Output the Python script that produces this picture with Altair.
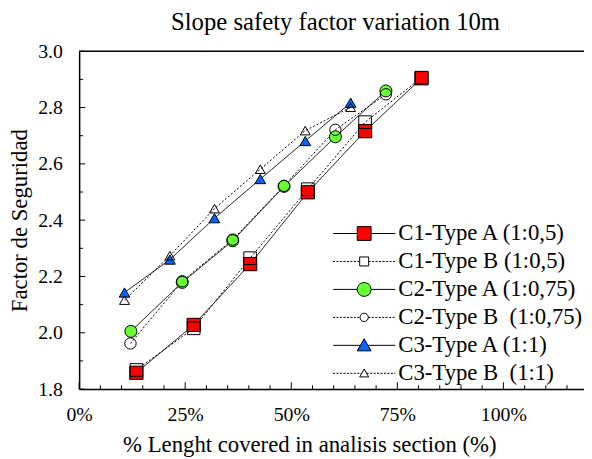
import altair as alt
import pandas as pd

# ---------------- data ----------------
series_names = [
    "C1-Type A (1:0,5)",
    "C1-Type B (1:0,5)",
    "C2-Type A (1:0,75)",
    "C2-Type B \u00a0(1:0,75)",
    "C3-Type A (1:1)",
    "C3-Type B \u00a0(1:1)",
]

c1a_x = [0.135, 0.270, 0.403, 0.539, 0.674, 0.807]
c1a_y = [1.858, 2.028, 2.244, 2.499, 2.716, 2.904]
c1b_x = [0.135, 0.270, 0.403, 0.539, 0.674, 0.807]
c1b_y = [1.868, 2.016, 2.265, 2.510, 2.748, 2.906]

c2a_x = [0.122, 0.243, 0.362, 0.483, 0.604, 0.723]
c2a_y = [2.005, 2.179, 2.327, 2.520, 2.696, 2.859]
c2b_x = [0.121, 0.243, 0.362, 0.483, 0.604, 0.723]
c2b_y = [1.962, 2.183, 2.331, 2.522, 2.721, 2.847]

c3a_x = [0.107, 0.214, 0.319, 0.427, 0.533, 0.640]
c3a_y = [2.143, 2.260, 2.407, 2.546, 2.681, 2.817]
c3b_x = [0.107, 0.214, 0.319, 0.427, 0.533, 0.640]
c3b_y = [2.116, 2.274, 2.441, 2.581, 2.718, 2.801]

x_major_ticks = [0.0, 0.25, 0.5, 0.75, 1.0]
x_minor_ticks = [0.05, 0.10, 0.15, 0.20, 0.30, 0.35, 0.40, 0.45, 0.55, 0.60,
                 0.65, 0.70, 0.80, 0.85, 0.90, 0.95, 1.05, 1.10, 1.15]
y_major_ticks = [1.8, 2.0, 2.2, 2.4, 2.6, 2.8, 3.0]
y_minor_ticks = [1.9, 2.1, 2.3, 2.5, 2.7, 2.9]

# ---------------- build tables ----------------
all_x = [c1a_x, c1b_x, c2a_x, c2b_x, c3a_x, c3b_x]
all_y = [c1a_y, c1b_y, c2a_y, c2b_y, c3a_y, c3b_y]
rows = []
for name, xs, ys in zip(series_names, all_x, all_y):
    for xv, yv in zip(xs, ys):
        rows.append({"series": name, "x": xv, "y": yv})
df = pd.DataFrame(rows)

W, H = 511, 342
FONT = "Liberation Serif"

xscale = alt.Scale(domain=[0, 1.19], nice=False, zero=False)
yscale = alt.Scale(domain=[1.8, 3.0], nice=False, zero=False)

xaxis = alt.Axis(
    title="% Lenght covered in analisis section (%)",
    values=x_major_ticks, format=".0%", grid=False, ticks=False, tickSize=0,
    labelPadding=16, labelFont=FONT, labelFontSize=20, labelColor="black",
    titleFont=FONT, titleFontSize=23, titleFontWeight="normal", titleColor="black",
    titleX=233, titleY=63, titleBaseline="alphabetic", titleAnchor="middle",
    domainColor="black", domainWidth=1.5, labelFlush=False,
)
yaxis = alt.Axis(
    title="Factor de Seguridad",
    values=y_major_ticks, format=".1f", grid=False, ticks=False, tickSize=0,
    labelPadding=17, labelFont=FONT, labelFontSize=20, labelColor="black",
    titleFont=FONT, titleFontSize=23, titleFontWeight="normal", titleColor="black",
    titleX=-60, titleY=H / 2, titleBaseline="middle", titleAnchor="middle",
    domainColor="black", domainWidth=1.5,
)

xenc = alt.X("x:Q", scale=xscale, axis=xaxis)
yenc = alt.Y("y:Q", scale=yscale, axis=yaxis)

dashes = [[1, 0], [2, 2], [1, 0], [2, 2], [1, 0], [2, 2]]
shapes = ["square", "square", "circle", "circle", "triangle-up", "triangle-up"]
fills = ["#ff0000", "transparent", "#66ff33", "transparent", "#0066ff", "transparent"]
strokes = ["black"] * 6
sizes = [180, 100, 185, 100, 175, 105]

lines = alt.Chart(df).mark_line(color="black", strokeWidth=1).encode(
    x=xenc, y=yenc, detail="series:N", order="x:Q",
    strokeDash=alt.StrokeDash("series:N", scale=alt.Scale(domain=series_names, range=dashes), legend=None),
)

points = alt.Chart(df).mark_point(filled=True, stroke="black", strokeWidth=1, opacity=1).encode(
    x=xenc, y=yenc,
    shape=alt.Shape("series:N", scale=alt.Scale(domain=series_names, range=shapes), legend=None),
    fill=alt.Fill("series:N", scale=alt.Scale(domain=series_names, range=fills), legend=None),
    size=alt.Size("series:N", scale=alt.Scale(domain=series_names, range=sizes), legend=None),
)


# legend symbols: line segment + marker as one path (1 unit = 7 px)
def dotted(x0, x1, dash=0.3, gap=0.2):
    parts = []
    xx = x0
    while xx < x1 - 1e-9:
        e = min(xx + dash, x1)
        parts.append(f"M{xx:.2f},0L{e:.2f},0")
        xx = e + gap
    return "".join(parts)


L = 4.5
sq_a = "M-1,-1L1,-1L1,1L-1,1Z"
sq_b = "M-0.65,-0.65L0.65,-0.65L0.65,0.65L-0.65,0.65Z"
ci_a = "M1,0A1,1 0 1,1 -1,0A1,1 0 1,1 1,0Z"
ci_b = "M0.6,0A0.6,0.6 0 1,1 -0.6,0A0.6,0.6 0 1,1 0.6,0Z"
tr_a = "M0,-0.95L1,0.8L-1,0.8Z"
tr_b = "M0,-0.62L0.65,0.52L-0.65,0.52Z"
legend_paths = [
    f"M-{L},0L-1,0M1,0L{L},0" + sq_a,
    dotted(-L, -0.65) + dotted(0.65, L) + sq_b,
    f"M-{L},0L-1,0M1,0L{L},0" + ci_a,
    dotted(-L, -0.6) + dotted(0.6, L) + ci_b,
    f"M-{L},0L-0.55,0M0.55,0L{L},0" + tr_a,
    dotted(-L, -0.36) + dotted(0.36, L) + tr_b,
]

leg = alt.Legend(
    title=None, orient="none", legendX=277, legendY=173, padding=0,
    labelFont=FONT, labelFontSize=23, labelColor="black", labelLimit=400,
    labelOffset=23, rowPadding=4.3, symbolSize=196,
    symbolStrokeColor="black", symbolStrokeWidth=1, symbolOpacity=1,
)

legend_layer = alt.Chart(df).transform_filter("false").mark_point(
    filled=True, strokeWidth=1, size=196, opacity=1
).encode(
    x=xenc, y=yenc,
    shape=alt.Shape("series:N", scale=alt.Scale(domain=series_names, range=legend_paths), legend=leg),
    fill=alt.Fill("series:N", scale=alt.Scale(domain=series_names, range=fills), legend=leg),
    stroke=alt.Stroke("series:N", scale=alt.Scale(domain=series_names, range=strokes), legend=leg),
)

xt_major = alt.Chart(pd.DataFrame({"x": x_major_ticks})).mark_rule(color="black", strokeWidth=1).encode(
    x=xenc, y=alt.value(H), y2=alt.value(H - 7)
)
xt_minor = alt.Chart(pd.DataFrame({"x": x_minor_ticks})).mark_rule(color="black", strokeWidth=1).encode(
    x=xenc, y=alt.value(H), y2=alt.value(H - 4)
)
yt_major = alt.Chart(pd.DataFrame({"y": y_major_ticks})).mark_rule(color="black", strokeWidth=1).encode(
    y=yenc, x=alt.value(0), x2=alt.value(6)
)
yt_minor = alt.Chart(pd.DataFrame({"y": y_minor_ticks})).mark_rule(color="black", strokeWidth=1).encode(
    y=yenc, x=alt.value(0), x2=alt.value(4)
)
top_frame = alt.Chart(pd.DataFrame({"y": [3.0]})).mark_rule(color="black", strokeWidth=1.5).encode(
    y=yenc, x=alt.value(0), x2=alt.value(W)
)

chart = alt.layer(
    xt_major, xt_minor, yt_major, yt_minor, top_frame, lines, points, legend_layer
).resolve_scale(
    shape="independent", fill="independent", stroke="independent"
).properties(
    width=W, height=H,
    title=alt.TitleParams(
        "Slope safety factor variation 10m", font=FONT, fontSize=25, fontWeight="normal",
        color="black", offset=6, anchor="middle", frame="group", dx=4,
    ),
    autosize=alt.AutoSizeParams(type="none"),
    padding={"left": 72, "top": 41, "right": 0, "bottom": 68},
).configure_view(stroke=None).configure(background="white")

chart.save("out.html", embed_options={"renderer": "svg", "actions": False})
